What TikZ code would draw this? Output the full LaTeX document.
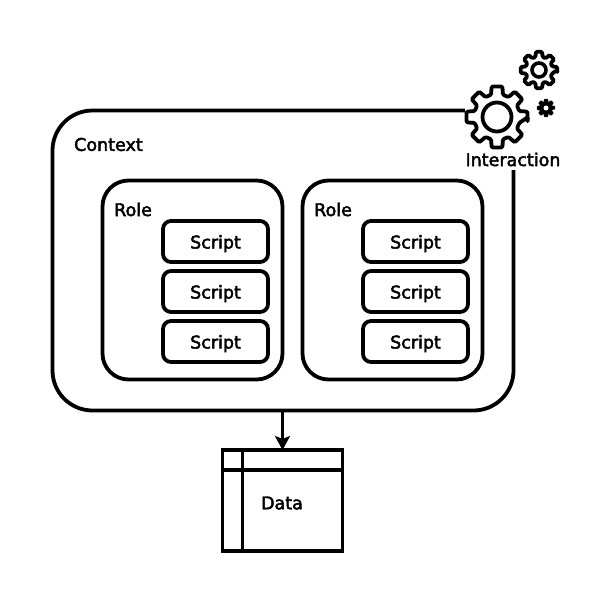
\documentclass[tikz,border=0pt]{standalone}
\usepackage{fontspec}
\setmainfont{DejaVu Sans}
\usetikzlibrary{arrows.meta,calc}
\newcommand{\heavytext}{\special{pdf:code 2 Tr 0.45 w}}
\tikzset{
  box/.style={draw=black,line width=3.8pt,fill=white,inner sep=0pt,outer sep=0pt,rectangle,rounded corners=#1},
  label/.style={font=\fontsize{17.5}{20}\selectfont\heavytext,text=black,inner sep=0pt},
  scriptbox/.style={box=8pt,minimum width=105pt,minimum height=41pt,label,text height=17.4pt,text depth=3.4pt},
  rolebox/.style={box=26pt,minimum width=180pt,minimum height=199pt},
  gearline/.style={draw=black,line width=3.8pt,fill=white,line join=round,rounded corners=1.2pt},
  link/.style={line width=3.8pt,draw=black},
}
\newcommand{\geardraw}[6]{% name, cx, cy, R, r, extra style
  \coordinate (#1) at (#2,#3);
  \path[gearline,shift={(#2,#3)},#6]
    (0:#4pt) \foreach \ang in {0,45,...,315} {
      -- ({\ang-10}:#4pt) -- ({\ang+10}:#4pt) -- ({\ang+15}:#5pt) -- ({\ang+30}:#5pt) }
    -- cycle;
}
\begin{document}
\begin{tikzpicture}[x=1pt,y=-1pt]
\useasboundingbox (0,0) rectangle (612,602);
\fill[white] (0,0) rectangle (612,602);
% Context
\node[box=40pt,minimum width=461pt,minimum height=300pt,anchor=north west] (context) at (52.5,110.5) {};
\fill[white] (465,85) rectangle (530,170);
% Roles
\node[rolebox,anchor=north west] (roleA) at (102.5,180.5) {};
\node[rolebox,anchor=north west] (roleB) at (302.5,180.5) {};
\node[label,anchor=west] (ctxlabel) at (74,144.5) {Context};
\node[label,anchor=west] (roleAlabel) at (114,209.5) {Role};
\node[label,anchor=west] (roleBlabel) at (314,209.5) {Role};
% Scripts
\foreach \nm/\cx in {a/215.5,b/415.5}{
  \node[scriptbox] (s\nm1) at (\cx,241.5) {Script};
  \node[scriptbox] (s\nm2) at (\cx,291.5) {Script};
  \node[scriptbox] (s\nm3) at (\cx,341.5) {Script};
}
% Data
\node[draw=black,line width=3.8pt,fill=white,inner sep=0pt,outer sep=0pt,minimum width=120pt,minimum height=101pt,anchor=north west] (data) at (222.5,450) {};
\node[label] (datalabel) at (282,503) {Data};
\draw[link,line width=3.6pt] ($(data.north west)+(0,20)$) -- ($(data.north east)+(0,20)$);
\draw[link,line width=3.6pt] ($(data.north west)+(20,0)$) -- ($(data.south west)+(20,0)$);
% Arrow
\draw[link,-{Stealth[length=14pt,width=15pt,inset=3pt]}] (context.south -| data.north) -- (data.north);
% Gears
\geardraw{gearbig}{497}{117}{31}{23}{}
\node[circle,draw=black,line width=3.8pt,minimum size=29pt,inner sep=0pt,fill=white] (hubbig) at (gearbig) {};
\geardraw{geartop}{539}{70}{18.5}{13.5}{}
\node[circle,draw=black,line width=3.6pt,minimum size=14pt,inner sep=0pt,fill=white] (hubtop) at (geartop) {};
\geardraw{gearsmall}{546}{108}{8.5}{6}{fill=black,line width=1.5pt,rounded corners=0.5pt}
\node[circle,fill=white,minimum size=5pt,inner sep=0pt] (hubsmall) at (gearsmall) {};
\node[label,fill=white,inner sep=1pt] (interaction) at (513,159.5) {Interaction};
\end{tikzpicture}
\end{document}
